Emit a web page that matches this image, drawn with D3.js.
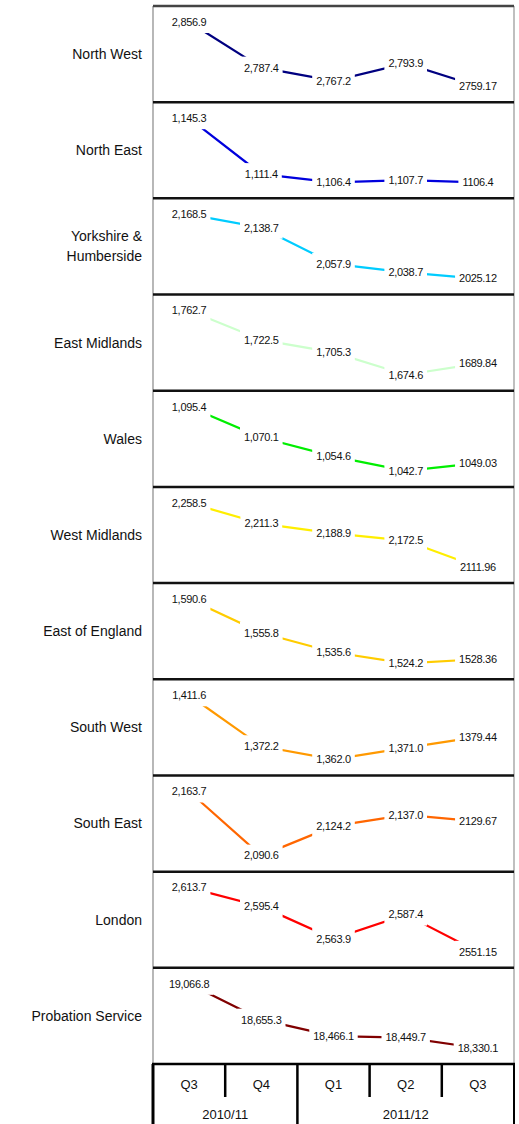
<!DOCTYPE html>
<html>
<head>
<meta charset="utf-8">
<script src="https://cdn.jsdelivr.net/npm/d3@7"></script>
<style>
  html, body { margin: 0; padding: 0; background: #fff; }
  svg { display: block; font-family: "Liberation Sans", Arial, sans-serif; }
</style>
</head>
<body>
<svg id="chart" width="519" height="1124"></svg>
<script>
// Quarterly caseload by region, Q3 2010/11 to Q3 2011/12
const quarters = ["Q3", "Q4", "Q1", "Q2", "Q3 "];
const quarterLabels = ["Q3", "Q4", "Q1", "Q2", "Q3"];
const years = ["2010/11", "2011/12"];
const yearSpans = [[0, 1], [2, 4]];

const regions = [
  "North West", "North East", "Yorkshire & Humberside", "East Midlands", "Wales",
  "West Midlands", "East of England", "South West", "South East", "London", "Probation Service"
];
const regionLines = [
  ["North West"], ["North East"], ["Yorkshire &", "Humberside"], ["East Midlands"], ["Wales"],
  ["West Midlands"], ["East of England"], ["South West"], ["South East"], ["London"], ["Probation Service"]
];
const colors = [
  "#000080", "#0000dd", "#00ccff", "#ccffcc", "#00ee00",
  "#ffee00", "#ffcc00", "#ff9900", "#ff6600", "#ff0000", "#800000"
];

const northWest    = [2856.9, 2787.4, 2767.2, 2793.9, 2759.17];
const northEast    = [1145.3, 1111.4, 1106.4, 1107.7, 1106.4];
const yorkshire    = [2168.5, 2138.7, 2057.9, 2038.7, 2025.12];
const eastMidlands = [1762.7, 1722.5, 1705.3, 1674.6, 1689.84];
const wales        = [1095.4, 1070.1, 1054.6, 1042.7, 1049.03];
const westMidlands = [2258.5, 2211.3, 2188.9, 2172.5, 2111.96];
const eastEngland  = [1590.6, 1555.8, 1535.6, 1524.2, 1528.36];
const southWest    = [1411.6, 1372.2, 1362.0, 1371.0, 1379.44];
const southEast    = [2163.7, 2090.6, 2124.2, 2137.0, 2129.67];
const london       = [2613.7, 2595.4, 2563.9, 2587.4, 2551.15];
const probation    = [19066.8, 18655.3, 18466.1, 18449.7, 18330.1];

const series = [northWest, northEast, yorkshire, eastMidlands, wales,
  westMidlands, eastEngland, southWest, southEast, london, probation];

// number format of the latest quarter's label in each panel
const lastFormats = [".2f", ".1f", ".2f", ".2f", ".2f", ".2f", ".2f", ".2f", ".2f", ".2f", ",.1f"];

const svg = d3.select("#chart");
const plotLeft = 153, plotRight = 514, plotTop = 6, plotBottom = 1064, tableBottom = 1124;

const x = d3.scalePoint().domain(quarters).range([plotLeft, plotRight]).padding(0.5);
const xBand = d3.scaleBand().domain(quarters).range([plotLeft, plotRight]);
const panel = d3.scaleBand().domain(regions).range([plotTop, plotBottom]);
const ph = panel.bandwidth();

const fmt = d3.format(",.1f");

regions.forEach((r, i) => {
  const y0 = panel(r);
  const vals = series[i];
  const y = d3.scaleLinear().domain(d3.extent(vals)).range([y0 + ph - 16, y0 + 16]);
  const g = svg.append("g");

  // region name
  const lines = regionLines[i];
  const name = g.append("text")
    .attr("x", 142)
    .attr("y", y0 + ph / 2 - (lines.length - 1) * 10)
    .attr("text-anchor", "end")
    .attr("font-size", 14)
    .attr("fill", "#111");
  lines.forEach((t, k) => {
    name.append("tspan").attr("x", 142).attr("dy", k === 0 ? "0.35em" : 20).text(t);
  });

  // line
  const line = d3.line().x((d, k) => x(quarters[k])).y(d => y(d));
  g.append("path")
    .datum(vals)
    .attr("d", line)
    .attr("fill", "none")
    .attr("stroke", colors[i])
    .attr("stroke-width", 2.2);

  // value labels on white boxes
  vals.forEach((v, k) => {
    const txt = k === vals.length - 1 ? d3.format(lastFormats[i])(v) : fmt(v);
    const lg = g.append("g").attr("transform", `translate(${x(quarters[k])},${y(v)})`);
    const rect = lg.append("rect").attr("fill", "#fff");
    const t = lg.append("text")
      .attr("text-anchor", "middle")
      .attr("dy", "0.35em")
      .attr("font-size", 11)
      .attr("letter-spacing", -0.3)
      .attr("fill", "#111")
      .text(txt);
    const w = t.node().getComputedTextLength();
    rect.attr("x", -w / 2 - 4).attr("y", -11).attr("width", w + 8).attr("height", 22);
  });
});

// panel frame: side rules and separators
svg.append("line").attr("x1", plotLeft).attr("x2", plotLeft).attr("y1", plotTop).attr("y2", plotBottom)
  .attr("stroke", "#888").attr("stroke-width", 1.2);
svg.append("line").attr("x1", plotRight).attr("x2", plotRight).attr("y1", plotTop).attr("y2", plotBottom)
  .attr("stroke", "#aaa").attr("stroke-width", 1.5);
regions.forEach((r, i) => {
  const yy = panel(r);
  svg.append("line").attr("x1", plotLeft).attr("x2", plotRight).attr("y1", yy).attr("y2", yy)
    .attr("stroke", i === 0 ? "#444" : "#111").attr("stroke-width", 2.5);
});

// category axis table
const ax = svg.append("g");
ax.append("line").attr("x1", plotLeft - 1).attr("x2", plotRight + 1).attr("y1", plotBottom).attr("y2", plotBottom)
  .attr("stroke", "#000").attr("stroke-width", 2.5);
ax.append("line").attr("x1", plotLeft).attr("x2", plotLeft).attr("y1", plotBottom).attr("y2", tableBottom)
  .attr("stroke", "#000").attr("stroke-width", 3);
ax.append("line").attr("x1", plotRight).attr("x2", plotRight).attr("y1", plotBottom).attr("y2", tableBottom)
  .attr("stroke", "#000").attr("stroke-width", 2);
quarters.slice(1).forEach((q, k) => {
  const xx = xBand(q);
  const yearEdge = (k + 1) === yearSpans[1][0];
  ax.append("line").attr("x1", xx).attr("x2", xx)
    .attr("y1", plotBottom).attr("y2", yearEdge ? tableBottom : 1097)
    .attr("stroke", "#000").attr("stroke-width", 2.5);
});
quarters.forEach((q, k) => {
  ax.append("text").attr("x", x(q)).attr("y", 1084).attr("dy", "0.35em")
    .attr("text-anchor", "middle").attr("font-size", 13).attr("fill", "#111")
    .text(quarterLabels[k]);
});
years.forEach((yr, k) => {
  const [a, b] = yearSpans[k];
  const cx = (xBand(quarters[a]) + xBand(quarters[b]) + xBand.bandwidth()) / 2;
  ax.append("text").attr("x", cx).attr("y", 1114).attr("dy", "0.35em")
    .attr("text-anchor", "middle").attr("font-size", 13).attr("fill", "#111")
    .text(yr);
});
</script>
</body>
</html>
